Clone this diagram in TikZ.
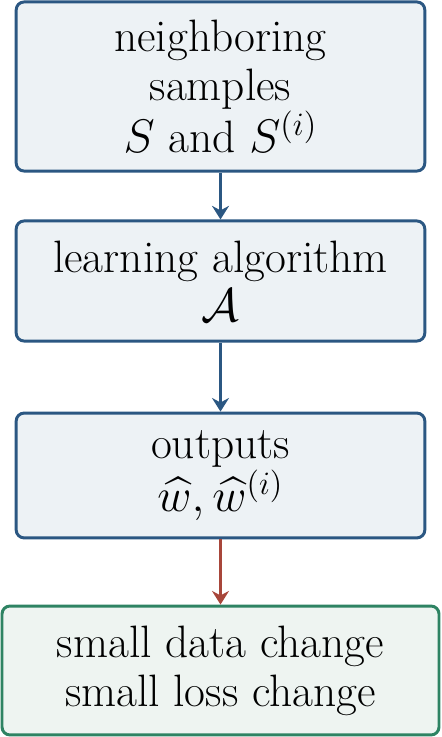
\documentclass[tikz,border=0pt]{standalone}
\usepackage{amsmath}
\usetikzlibrary{positioning, arrows.meta}
\definecolor{navy}{HTML}{2B5782}
\definecolor{rust}{HTML}{A8463A}
\definecolor{pine}{HTML}{2E8363}
\definecolor{mist}{HTML}{EDF2F5}
\definecolor{mint}{HTML}{EEF4F1}

\begin{document}
\begin{tikzpicture}[x=0.4405pt, y=0.4405pt,
    stage/.style={draw=navy, fill=mist, line width=1.3pt, rounded corners=3.5pt,
                  minimum width=180pt, align=center, inner sep=0pt,
                  font=\fontsize{20pt}{21.6pt}\selectfont},
    verdict/.style={stage, draw=pine, fill=mint, minimum width=192.5pt},
    flow/.style={-{Stealth[length=6pt, width=7.5pt, inset=2pt]}, line width=1.3pt, navy}]
  \useasboundingbox (0,0) rectangle (441,737);
  % boxes
  \node[stage, minimum height=74.5pt] (samples) at (220.5,650.5)
       {neighboring\\samples\\$S$ and $S^{(i)}$};
  \node[stage, minimum height=52.9pt] (algo) at (220.5,456)
       {learning algorithm\\$\mathcal{A}$};
  \node[stage, minimum height=55pt] (outs) at (220.5,261.5)
       {outputs\\$\widehat{w}, \widehat{w}^{(i)}$};
  \node[verdict, minimum height=56.8pt] (change) at (220.5,66.5)
       {small data change\\small loss change};
  % arrows
  \draw[flow] (samples) -- (algo);
  \draw[flow] (algo) -- (outs);
  \draw[flow, rust] (outs) -- (change);
\end{tikzpicture}
\end{document}
